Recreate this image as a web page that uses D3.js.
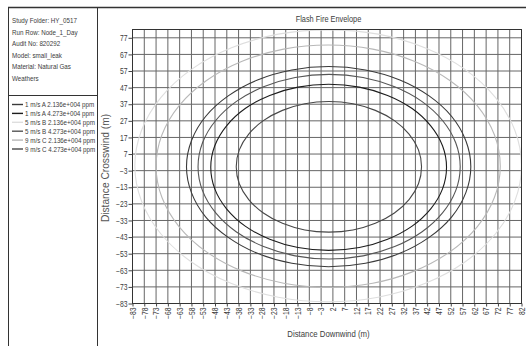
<!DOCTYPE html>
<html>
<head>
<meta charset="utf-8">
<script src="https://cdn.jsdelivr.net/npm/d3@7"></script>
<style>
  html, body { margin: 0; padding: 0; background: #fff; }
  svg { display: block; }
  text { font-family: 'Liberation Sans', Arial, sans-serif; fill: #3c3c3c; }
</style>
</head>
<body>
<svg id="chart" width="526" height="346"></svg>
<script>
// header block text
const infoLines = ['Study Folder: HY_0517', 'Run Row: Node_1_Day', 'Audit No: 820292',
  'Model: small_leak', 'Material: Natural Gas', 'Weathers'];

// legend order
const seriesNames = ['1 m/s A 2.136e+004 ppm', '1 m/s A 4.273e+004 ppm', '5 m/s B 2.136e+004 ppm',
  '5 m/s B 4.273e+004 ppm', '9 m/s C 2.136e+004 ppm', '9 m/s C 4.273e+004 ppm'];
const seriesColors = ['#3a3a3a', '#1c1c1c', '#dedede', '#555555', '#b8b8b8', '#474747'];

const xTicks = [-83, -78, -73, -68, -63, -58, -53, -48, -43, -38, -33, -28, -23, -18, -13, -8, -3,
  2, 7, 12, 17, 22, 27, 32, 37, 42, 47, 52, 57, 62, 67, 72, 77, 82];
const yTicks = [77, 67, 57, 47, 37, 27, 17, 7, -3, -13, -23, -33, -43, -53, -63, -73, -83];

// envelope outlines, [downwind, crosswind] in m
const envA_lo = [[60.5,-0.6],[58.4,15.0],[52.4,29.6],[42.8,42.0],[30.4,51.6],[15.8,57.6],[0.2,59.7],
  [-15.4,57.6],[-30,51.6],[-42.4,42.0],[-52,29.6],[-58,15.0],[-60.1,-0.6],[-58,-16.2],[-52,-30.8],
  [-42.4,-43.2],[-30,-52.8],[-15.4,-58.8],[0.2,-60.9],[15.8,-58.8],[30.4,-52.8],[42.8,-43.2],[52.4,-30.8],[58.4,-16.2]];
const envA_hi = [[50.2,-1],[48.5,12],[43.5,24],[35.6,34.4],[25.2,42.3],[13.2,47.3],[0.2,49],
  [-12.8,47.3],[-24.8,42.3],[-35.2,34.4],[-43.1,24],[-48.1,12],[-49.8,-1],[-48.1,-14],[-43.1,-26],
  [-35.2,-36.4],[-24.8,-44.3],[-12.8,-49.3],[0.2,-51],[13.2,-49.3],[25.2,-44.3],[35.6,-36.4],[43.5,-26],[48.5,-14]];
const envB_lo = [[82,0],[79.2,21.2],[71,41],[58,58],[41,71],[21.2,79.2],[0,81.8],[-21.2,79.2],
  [-41,71],[-58,58],[-71,41],[-79.2,21.2],[-82,0],[-79.2,-21.2],[-71,-41],[-58,-58],[-41,-71],
  [-21.2,-79.2],[0,-82],[21.2,-79.2],[41,-71],[58,-58],[71,-41],[79.2,-21.2]];
const envB_hi = [[56,-0.6],[54.1,13.8],[48.5,27.2],[39.7,38.7],[28.2,47.5],[14.8,53.1],[0.4,55],
  [-14,53.1],[-27.4,47.5],[-38.9,38.7],[-47.7,27.2],[-53.3,13.8],[-55.2,-0.6],[-53.3,-15],[-47.7,-28.4],
  [-38.9,-39.9],[-27.4,-48.7],[-14,-54.3],[0.4,-56.2],[14.8,-54.3],[28.2,-48.7],[39.7,-39.9],[48.5,-28.4],[54.1,-15]];
const envC_lo = [[73,-0.3],[70.5,18.6],[63.2,36.2],[51.6,51.3],[36.5,62.9],[18.9,70.2],[0,72.7],
  [-18.9,70.2],[-36.5,62.9],[-51.6,51.3],[-63.2,36.2],[-70.5,18.6],[-73,-0.3],[-70.5,-19.2],[-63.2,-36.8],
  [-51.6,-51.9],[-36.5,-63.5],[-18.9,-70.8],[0,-73.3],[18.9,-70.8],[36.5,-63.5],[51.6,-51.9],[63.2,-36.8],[70.5,-19.2]];
const envC_hi = [[39.6,-0.7],[38.3,9.5],[34.3,19],[28.1,27.1],[20,33.3],[10.5,37.3],[0.3,38.6],
  [-9.9,37.3],[-19.4,33.3],[-27.5,27.1],[-33.7,19],[-37.7,9.5],[-39,-0.7],[-37.7,-10.9],[-33.7,-20.4],
  [-27.5,-28.5],[-19.4,-34.7],[-9.9,-38.7],[0.3,-40],[10.5,-38.7],[20,-34.7],[28.1,-28.5],[34.3,-20.4],[38.3,-10.9]];

const envelopes = [envA_lo, envA_hi, envB_lo, envB_hi, envC_lo, envC_hi];

let svg = d3.select('#chart');

// squeeze text horizontally, the original uses a narrow face
let squeeze = function(sel, k) {
  sel.each(function() {
    let w = this.getComputedTextLength();
    d3.select(this).attr('textLength', w * k).attr('lengthAdjust', 'spacingAndGlyphs');
  });
};

let x = d3.scaleLinear().domain([-83, 82]).range([132.5, 521.5]);
let y = d3.scaleLinear().domain([-83, 82]).range([303.5, 29.5]);

// frame
svg.append('line').attr('x1', 8).attr('x2', 526).attr('y1', 7.5).attr('y2', 7.5)
  .attr('stroke', '#333').attr('stroke-width', 1.6);
svg.append('line').attr('x1', 8.5).attr('x2', 8.5).attr('y1', 7).attr('y2', 346).attr('stroke', '#333');
svg.append('line').attr('x1', 97.5).attr('x2', 97.5).attr('y1', 7).attr('y2', 346).attr('stroke', '#333');
svg.append('line').attr('x1', 8).attr('x2', 98).attr('y1', 95.5).attr('y2', 95.5).attr('stroke', '#333');

// info block
let info = svg.append('g');
info.selectAll('text').data(infoLines).enter().append('text')
  .attr('x', 12).attr('y', (d, i) => 23 + i * 11.6)
  .style('font-size', '8px')
  .text(d => d)
  .call(squeeze, 0.78);

// legend
let legend = svg.append('g');
let rows = legend.selectAll('g').data(seriesNames).enter().append('g')
  .attr('transform', (d, i) => 'translate(0,' + (104.5 + i * 8.9) + ')');
rows.append('line').attr('x1', 12).attr('x2', 23).attr('y1', 0).attr('y2', 0)
  .attr('stroke', (d, i) => seriesColors[i]).attr('stroke-width', 1.4);
rows.append('text').attr('x', 25).attr('y', 2.8)
  .style('font-size', '8px')
  .text(d => d)
  .call(squeeze, 0.78);

// grid
let grid = svg.append('g');
grid.selectAll('line.v').data(xTicks).enter().append('line').attr('class', 'v')
  .attr('x1', d => x(d)).attr('x2', d => x(d)).attr('y1', y(82)).attr('y2', y(-83))
  .attr('stroke', '#666').attr('stroke-width', 1);
grid.selectAll('line.h').data(yTicks).enter().append('line').attr('class', 'h')
  .attr('x1', x(-83)).attr('x2', x(82)).attr('y1', d => y(d)).attr('y2', d => y(d))
  .attr('stroke', '#666').attr('stroke-width', 1);

// envelopes
let line = d3.line()
  .x(d => x(d[0]))
  .y(d => y(d[1]))
  .curve(d3.curveCardinalClosed);

svg.append('g').selectAll('path').data(envelopes).enter().append('path')
  .attr('d', line)
  .attr('fill', 'none')
  .attr('stroke', (d, i) => seriesColors[i])
  .attr('stroke-width', 1.1);

// plot border
svg.append('rect')
  .attr('x', x(-83)).attr('y', y(82))
  .attr('width', x(82) - x(-83)).attr('height', y(-83) - y(82))
  .attr('fill', 'none').attr('stroke', '#333');

// axes
let yAxis = svg.append('g')
  .attr('transform', 'translate(' + x(-83) + ',0)')
  .call(d3.axisLeft(y).tickValues(yTicks).tickSize(4).tickPadding(1).tickFormat(d3.format('d')));
yAxis.select('.domain').remove();
yAxis.selectAll('line').attr('stroke', '#444');
yAxis.selectAll('text').style('font-size', '8.5px').style('font-family', null).attr('fill', '#3c3c3c')
  .call(squeeze, 0.8);

let xAxis = svg.append('g')
  .attr('transform', 'translate(0,' + y(-83) + ')')
  .call(d3.axisBottom(x).tickValues(xTicks).tickSize(3).tickFormat(d3.format('d')));
xAxis.select('.domain').remove();
xAxis.selectAll('line').attr('stroke', '#444');
xAxis.selectAll('text')
  .style('font-size', '8.5px').style('font-family', null).attr('fill', '#3c3c3c')
  .attr('transform', 'rotate(-90)')
  .attr('text-anchor', 'end')
  .attr('x', -4).attr('y', 0).attr('dy', '0.32em')
  .call(squeeze, 0.8);

// titles
svg.append('text').attr('x', 328.5).attr('y', 22).attr('text-anchor', 'middle')
  .style('font-size', '9px').text('Flash Fire Envelope').call(squeeze, 0.82);
svg.append('text').attr('x', 328.5).attr('y', 337).attr('text-anchor', 'middle')
  .style('font-size', '9.5px').text('Distance Downwind (m)').call(squeeze, 0.82);
svg.append('text').attr('transform', 'translate(109,168) rotate(-90)').attr('text-anchor', 'middle')
  .style('font-size', '10px').style('fill', '#555').text('Distance Crosswind (m)')
  .call(squeeze, 1.02);
</script>
</body>
</html>
